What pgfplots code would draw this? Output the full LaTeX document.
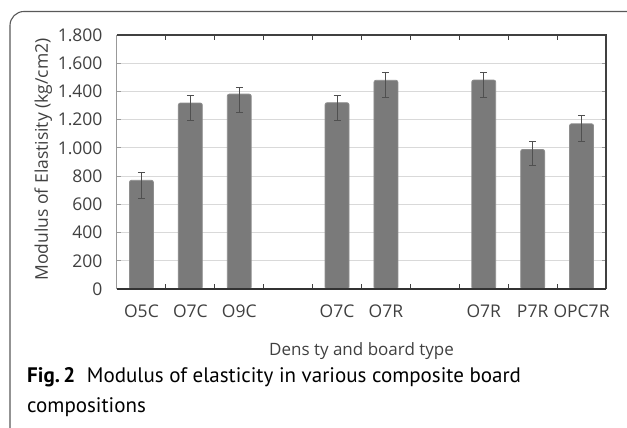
\documentclass[border=0pt]{standalone}
\usepackage{pgfplots}
\pgfplotsset{compat=1.18}
\usepackage{fontspec}
\setmainfont{Open Sans}
\newfontfamily\capfont{PT Sans}
\definecolor{barfill}{HTML}{7A7A7A}
\definecolor{bardraw}{HTML}{8E8E8E}
\definecolor{errc}{HTML}{505050}
\definecolor{txt}{HTML}{404040}
\begin{document}
\begin{tikzpicture}[x=1pt,y=1pt]
\useasboundingbox (0,0) rectangle (627,428);
\draw[line width=1.1pt, black!65, rounded corners=14pt] (10,0) -- (10,416.5) -- (627,416.5);
\begin{axis}[
  at={(117pt,139pt)}, anchor=south west,
  scale only axis, width=489pt, height=254pt,
  xmin=-0.5, xmax=9.5, ymin=0, ymax=1800,
  clip=false,
  ytick={0,200,...,1800},
  xtick={0,1,2,4,5,7,8,9},
  xticklabels={O5C,O7C,O9C,O7C,O7R,O7R,P7R,OPC7R},
  minor xtick={0.5,1.5,...,8.5},
  major x tick style={draw=none},
  minor x tick style={draw=black!75, line width=0.8pt},
  minor tick length=5pt,
  major tick length=4pt,
  y tick style={draw=black!40, line width=0.8pt},
  tick align=inside,
  ymajorgrids,
  grid style={draw=black!15, line width=1pt},
  axis line style={draw=none},
  /pgf/number format/assume math mode=true,
  /pgf/number format/1000 sep={.},
  tick label style={font=\fontsize{17.5}{20}\selectfont, text=txt},
  yticklabel style={xshift=-11pt},
  xticklabel style={yshift=-12pt},
  every axis x label/.style={at={(axis description cs:0.5,-0.246)}, anchor=center},
  every axis y label/.style={at={(axis description cs:-0.151,0.51)}, rotate=90, anchor=center},
  xlabel={Dens ty and board type},
  ylabel={Modulus of Elastisity (kg/cm2)},
  xlabel style={font=\fontsize{17}{20}\selectfont, text=txt},
  ylabel style={font=\fontsize{17.5}{20}\selectfont, text=txt},
]
\addplot[ybar, bar width=0.49, fill=barfill, draw=bardraw, line width=0.8pt,
  rounded corners=2pt,
  error bars/.cd, y dir=both, y explicit,
  error bar style={draw=errc, line width=1pt},
  error mark options={draw=errc, line width=1pt, mark size=3.5pt, rotate=90}]
coordinates {
  (0,770) += (0,55) -= (0,128)
  (1,1318) += (0,56) -= (0,126)
  (2,1381) += (0,45) -= (0,132)
  (4,1320) += (0,53) -= (0,128)
  (5,1479) += (0,57) -= (0,120)
  (7,1481) += (0,55) -= (0,122)
  (8,989) += (0,59) -= (0,111)
  (9,1171) += (0,57) -= (0,125)
};
\draw[line width=1.2pt, black!75] (rel axis cs:0,1) -- (rel axis cs:1,1) -- (rel axis cs:1,0);
\draw[line width=1.2pt, black!80] (rel axis cs:0,0) -- (rel axis cs:1,0);
\draw[line width=1pt, black!40] (rel axis cs:0,0) -- (rel axis cs:0,1);
\end{axis}
\node[anchor=base west, inner sep=0pt] at (27,45) {\capfont\fontsize{21}{25}\selectfont\textbf{Fig.\,2}\hspace{0.55em}Modulus of elasticity in various composite board};
\node[anchor=base west, inner sep=0pt] at (27,15) {\capfont\fontsize{21}{25}\selectfont compositions};
\end{tikzpicture}
\end{document}
